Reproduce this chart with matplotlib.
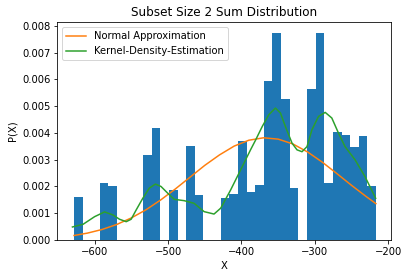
import numpy as np
import matplotlib
matplotlib.use("Agg")
import matplotlib.pyplot as plt

# histogram: 35 equal bins, density values
bin_start = -628.2
bin_width = 11.757
density = [0.00161, 0, 0, 0.00213, 0.00202, 0, 0, 0, 0.00318, 0.00419,
           0, 0.00186, 0, 0.00352, 0.00169, 0, 0, 0.00157, 0.00172, 0.00371,
           0.00180, 0.00206, 0.00594, 0.00775, 0.00528, 0.00195, 0, 0.00566, 0.00775, 0.00213,
           0.00404, 0.00393, 0.00348, 0.00390, 0.00202]

# normal approximation curve
norm_x = [-628, -610, -590, -570, -550, -530, -510, -490, -470, -450, -430,
          -410, -390, -370, -350, -330, -310, -290, -270, -250, -230, -217]
norm_y = [0.000169, 0.000256, 0.000392, 0.000579, 0.000825, 0.001131, 0.001498,
          0.00191, 0.00235, 0.00279, 0.00318, 0.00351, 0.00373, 0.00382, 0.00377,
          0.00359, 0.00329, 0.00291, 0.00248, 0.00204, 0.00162, 0.00136]

# kernel density estimate curve
kde_x = [-630.2, -615.7, -600.0, -586.4, -575.1, -566.1, -557.0, -550.3, -543.5, -534.4,
         -525.5, -517.3, -509.6, -500.5, -491.6, -478.0, -464.5, -450.9, -437.4, -428.3,
         -414.8, -401.2, -387.7, -380.9, -371.8, -362.9, -353.8, -347.0, -340.2,
         -331.2, -324.4, -317.6, -310.8, -304.1, -295.1, -286.0, -277.0, -268.0, -259.0,
         -245.4, -231.8, -217.3]
kde_y = [0.000487, 0.000588, 0.000873, 0.00105, 0.000936, 0.000775, 0.000685, 0.000775, 0.00112, 0.00156,
         0.00194, 0.00209, 0.00200, 0.00175, 0.00152, 0.00147, 0.00137, 0.00106, 0.00097, 0.00119,
         0.00187, 0.00262, 0.00337, 0.00373, 0.00424, 0.00468, 0.00493, 0.00475, 0.00424,
         0.00362, 0.00337, 0.00330, 0.00349, 0.00412, 0.00462, 0.00477, 0.00456, 0.00400, 0.00349,
         0.00300, 0.00237, 0.00156]

edges = bin_start + bin_width * np.arange(len(density) + 1)

fig = plt.figure(figsize=(408 / 72, 278 / 72), dpi=72)
ax = fig.add_axes([0.1404, 0.1367, 0.8186, 0.7831])

ax.hist(edges[:-1], bins=edges, weights=density, color="C0")
ax.plot(norm_x, norm_y, color="C1", label="Normal Approximation")
ax.plot(kde_x, kde_y, color="C2", label="Kernel-Density-Estimation")

ax.set_title("Subset Size 2 Sum Distribution")
ax.set_xlabel("X")
ax.set_ylabel("P(X)")
ax.legend(loc="upper left")

fig.savefig("out.png", dpi=72)
